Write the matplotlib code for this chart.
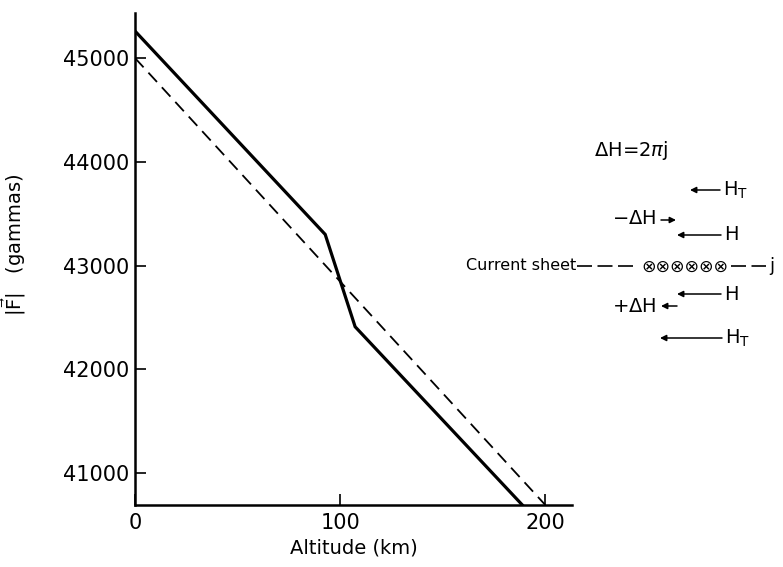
import numpy as np
import matplotlib
matplotlib.use("Agg")
import matplotlib.pyplot as plt
from matplotlib.lines import Line2D

plt.rcParams['font.family'] = ['DejaVu Sans']
plt.rcParams['mathtext.fontset'] = 'dejavusans'

# |F| versus altitude
alt_solid = [0, 92.7, 107.3, 188.8]
f_solid = [45260, 43300, 42410, 40692]
alt_dash = [0, 200]
f_dash = [45000, 40692]

xticks = [0, 100, 200]
yticks = [41000, 42000, 43000, 44000, 45000]

W, H = 783, 567
fig = plt.figure(figsize=(W / 100, H / 100), dpi=100)
ax = fig.add_axes([135 / W, (H - 505) / H, (572 - 135) / W, (505 - 13) / H])

ax.plot(alt_solid, f_solid, color='k', lw=2.3, solid_joinstyle='miter')
ax.plot(alt_dash, f_dash, color='k', lw=1.3, dashes=(7, 4))

ax.set_xlim(0, 213)
ax.set_ylim(40692, 45434)
ax.set_xticks(xticks)
ax.set_yticks(yticks)
ax.tick_params(direction='in', length=8, width=1.2, labelsize=15, pad=4)
ax.tick_params(axis='x', pad=6)
for s in ['top', 'right']:
    ax.spines[s].set_visible(False)
for s in ['left', 'bottom']:
    ax.spines[s].set_linewidth(1.8)

ax.set_xlabel('Altitude (km)', fontsize=14, labelpad=4)
ax.set_ylabel(r'$|\vec{\mathrm{F}}|$   (gammas)', fontsize=14)
ax.yaxis.set_label_coords(-0.245, 0.53)


# schematic on the right, placed in figure pixels (top-left origin)
def txt(x, y, s, **kw):
    fig.text(x / W, (H - y) / H, s, va='center', **kw)


def arrow(x_from, x_to, y):
    ax.annotate('', xy=(x_to, H - y), xytext=(x_from, H - y),
                xycoords='figure pixels', textcoords='figure pixels',
                arrowprops=dict(arrowstyle='-|>', lw=1.1, color='k',
                                mutation_scale=9, shrinkA=0, shrinkB=0))


def dashline(x0, x1, y):
    fig.add_artist(Line2D([x0 / W, x1 / W], [(H - y) / H] * 2,
                          color='k', lw=1.2, dashes=(9, 3.3)))


txt(594, 150, r'$\Delta$H=2$\pi$j', fontsize=14)

arrow(720, 690, 190)
txt(723, 190, r'H$_\mathrm{T}$', fontsize=14)

txt(612, 219, r'$-\Delta$H', fontsize=14)
arrow(661, 676, 220)

arrow(721, 677, 235)
txt(724, 234, 'H', fontsize=14)

txt(466, 266, 'Current sheet', fontsize=11.5)
dashline(577, 633, 266)
txt(641, 267, '\u2297\u2297\u2297\u2297\u2297\u2297', fontsize=12.5)
dashline(731, 766, 266)
txt(769, 266, 'j', fontsize=13)

arrow(721, 677, 294)
txt(724, 294, 'H', fontsize=14)

txt(612, 307, r'+$\Delta$H', fontsize=14)
arrow(677, 661, 306)

arrow(722, 660, 338)
txt(725, 338, r'H$_\mathrm{T}$', fontsize=14)

fig.savefig('out.png', dpi=100)
